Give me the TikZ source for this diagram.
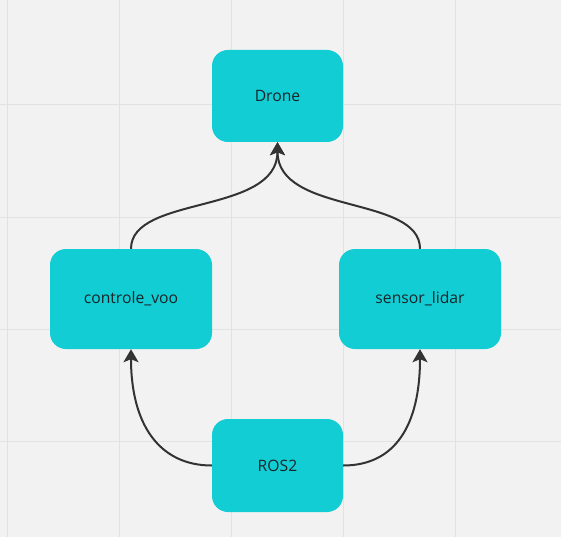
\documentclass[tikz,border=0pt]{standalone}
\usepackage{fontspec}
\setmainfont{Open Sans}
\usetikzlibrary{arrows.meta}
\definecolor{bg}{HTML}{F2F2F2}
\definecolor{gridc}{HTML}{E2E2E2}
\definecolor{boxc}{HTML}{13CDD4}
\definecolor{txtc}{HTML}{1A2529}
\definecolor{linec}{HTML}{333333}
\begin{document}
\begin{tikzpicture}[x=1pt,y=-1pt,
  box/.style={fill=boxc, rounded corners=16pt, text=txtc, inner sep=0pt,
    font=\fontsize{15.7}{18}\selectfont},
  conn/.style={draw=linec, line width=2pt,
    -{Stealth[length=13pt,width=15pt,inset=3pt]}},
  gridline/.style={draw=gridc, line width=1pt}]
\fill[bg] (0,0) rectangle (561,537);
\useasboundingbox (0,0) rectangle (561,537);
\foreach \x in {7,119,231,343,455} \draw[gridline] (\x,0) -- (\x,537);
\foreach \y in {105,217,329,441} \draw[gridline] (0,\y) -- (561,\y);
\node[box, minimum width=131pt, minimum height=92pt] (drone) at (277.5,96) {Drone};
\node[box, minimum width=162pt, minimum height=100pt] (cv) at (131,299) {controle\_voo};
\node[box, minimum width=162pt, minimum height=100pt] (sl) at (420,299) {sensor\_lidar};
\node[box, minimum width=131pt, minimum height=93pt] (ros) at (277.5,465.5) {ROS2};
\draw[conn] (cv.north) .. controls ([yshift=54pt]cv.north) and ([yshift=-73pt]drone.south) .. (drone.south);
\draw[conn] (sl.north) .. controls ([yshift=54pt]sl.north) and ([yshift=-73pt]drone.south) .. (drone.south);
\draw[conn] (ros.west) .. controls ([xshift=-52pt]ros.west) and ([yshift=-76pt]cv.south) .. (cv.south);
\draw[conn] (ros.east) .. controls ([xshift=52pt]ros.east) and ([yshift=-76pt]sl.south) .. (sl.south);
\end{tikzpicture}
\end{document}
